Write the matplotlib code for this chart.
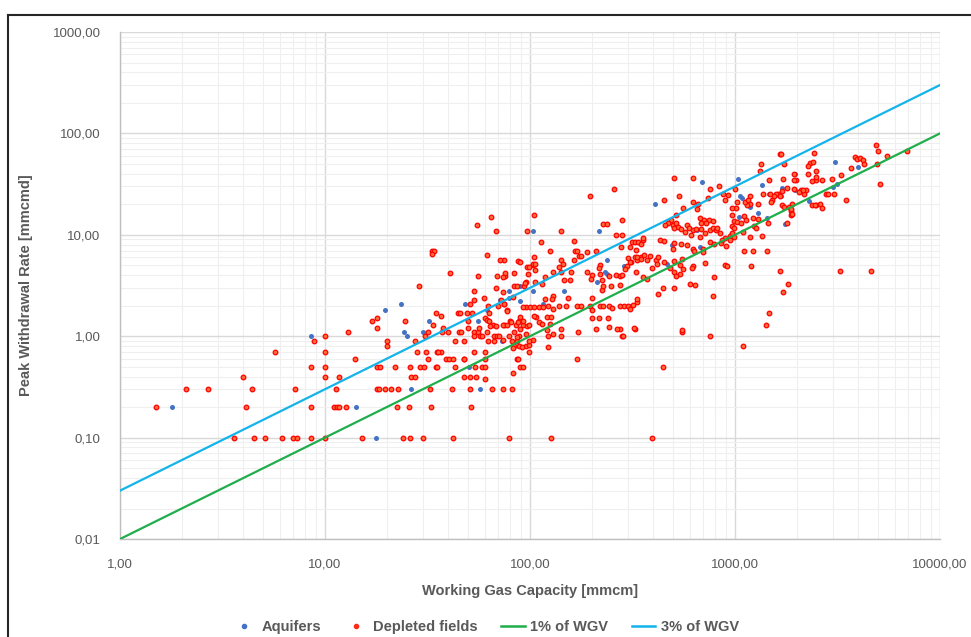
import numpy as np
import matplotlib.pyplot as plt
from matplotlib.lines import Line2D
from matplotlib.ticker import FixedLocator, LogLocator, NullFormatter

plt.rcParams['font.family'] = ['Liberation Sans', 'DejaVu Sans']

# Aquifer storages: (working gas capacity [mmcm], peak withdrawal rate [mmcmd])
aquifers = [
    (1.8, 0.2), (8.5, 1.0), (14.1, 0.2), (17.7, 0.1), (19.6, 1.8), (23.5, 2.1),
    (24.4, 1.1), (25, 1.0), (26.4, 0.3), (30, 1.1), (32, 1.4), (48.3, 2.1),
    (50.5, 0.5), (56, 1.4), (57, 0.3), (61.7, 1.8), (71.5, 2.3), (73.3, 0.9),
    (79, 2.8), (79, 2.4), (89.5, 3.1), (89.5, 2.2), (103, 10.8), (103, 2.8),
    (116, 2.07), (146, 2.8), (175, 2.0), (213, 3.4), (218, 10.8), (232, 4.3),
    (238, 4.1), (238, 5.7), (286, 4.9), (305, 2.0), (405, 19.9), (465, 5.1),
    (492, 7.9), (650, 11.1), (674, 7.6), (690, 32.8), (1030, 35.8), (1060, 24),
    (1080, 22.8), (1180, 18.9), (1050, 15), (1290, 16.5), (1440, 14.5),
    (1350, 31.3), (1470, 25.1), (1680, 24), (1700, 29.2), (1750, 12.9),
    (1960, 27.5), (1970, 40.2), (2300, 21.4), (2990, 29.7), (3160, 32),
    (3080, 52.6), (3990, 47),
]

# Depleted gas/oil fields
depleted_small = [
    (1.5, 0.2), (2.1, 0.3), (2.7, 0.3), (3.6, 0.1), (4.0, 0.4), (4.1, 0.2),
    (4.4, 0.3), (4.5, 0.1), (5.1, 0.1), (5.7, 0.7), (6.2, 0.1), (7.0, 0.1),
    (7.3, 0.1), (7.1, 0.3), (8.5, 0.5), (8.8, 0.9), (8.5, 0.2), (8.5, 0.1),
    (10, 1.0), (10, 0.7), (10, 0.5), (10, 0.4), (10, 0.1), (11.3, 0.3),
    (11.7, 0.4), (11.0, 0.2), (11.4, 0.2), (11.7, 0.2), (12.7, 0.2), (12.9, 1.1),
    (14.0, 0.6), (15.1, 0.1), (16.9, 1.4), (17.9, 1.5), (18.0, 1.2), (20, 0.9),
    (20, 0.8), (17.9, 0.5), (18.5, 0.5), (21.9, 0.5), (18, 0.3), (18.3, 0.3),
    (19.7, 0.3), (21.1, 0.3), (22.6, 0.3), (22.4, 0.2), (24.5, 1.4), (27.5, 0.9),
    (26, 0.5), (29, 0.5), (30.5, 0.5), (28.8, 3.1), (28, 0.7), (31, 0.7),
    (30.6, 1.0), (31.7, 1.1), (33.7, 1.3), (33.1, 7.0), (34, 7.0), (33.1, 6.5),
    (34.8, 1.7), (36.7, 1.6), (35.3, 0.7), (36.7, 0.7), (34.8, 0.5), (35, 0.5),
    (31.9, 0.6), (37.7, 1.2), (37, 1.1), (40, 1.1), (43, 0.9), (44.8, 1.1),
    (46, 1.1), (47.7, 0.9), (39, 0.6), (40.4, 0.6), (42, 0.6), (40.7, 4.2),
    (44.6, 1.7), (45.5, 1.7), (47.5, 0.6), (49.5, 1.7), (50.8, 2.1), (51.9, 1.7),
    (49.7, 1.4), (49.7, 1.2), (24, 0.1), (26, 0.1), (26.2, 0.4), (27.5, 0.4),
    (25.7, 0.2), (30, 0.1), (32.5, 0.3), (33, 0.2), (41.8, 0.3), (42, 0.1),
    (35.6, 0.7), (43, 0.5), (47.7, 0.6), (47.7, 0.4), (51, 0.4),
]

depleted_mid = [
    (53.3, 2.8), (53.4, 2.3), (59.8, 2.4), (56, 3.9), (55.4, 12.6), (64.5, 15),
    (68, 11), (61.7, 6.3), (68.7, 3.9), (75.5, 3.9), (75.5, 4.2), (74.8, 5.6),
    (83.2, 4.2), (87.7, 5.5), (68, 3.0), (74.2, 2.7), (84, 3.1), (62.5, 2.0),
    (63, 1.7), (60.5, 1.5), (72, 2.3), (70, 2.0), (74.8, 2.1), (77, 1.8),
    (61.6, 1.45), (63, 1.4), (66, 1.3), (64, 1.25), (68, 1.25), (75, 1.3),
    (80, 1.4), (85, 1.3), (53.4, 1.1), (53.5, 1.0), (55.7, 1.1), (56.3, 1.2),
    (56.9, 1.0), (58.6, 1.0), (61.5, 1.1), (62.3, 0.9), (66.5, 1.0), (68.8, 1.0),
    (70.5, 1.0), (66.8, 0.9), (79, 1.0), (82, 0.9), (86.7, 0.9), (53.4, 0.7),
    (60, 0.7), (60, 0.6), (58.6, 0.5), (54, 0.5), (54.7, 0.4), (60, 0.38),
    (60, 0.5), (51, 0.3), (65, 0.3), (74, 0.3), (82, 0.3), (51.5, 0.2), (79, 0.1),
    (126, 0.1), (394, 0.1), (96.4, 11), (95.3, 3.4), (96.4, 4.8), (88.8, 1.4),
    (92.5, 1.3), (96.4, 1.25), (86.5, 0.6), (89.5, 0.5), (92, 0.5), (83, 0.43),
    (88, 1.0), (84, 0.8), (88, 0.8), (96, 0.8), (71, 5.6), (74, 3.85), (89, 5.4),
    (103, 5.0), (86, 3.1), (93, 3.1), (83, 2.45), (75, 2.1), (77, 1.78),
    (74, 1.28), (77, 1.28), (81, 1.38), (87, 1.38), (89, 1.19), (84, 1.1),
    (86, 0.98), (96, 1.06), (103, 0.91), (99, 0.81), (91, 0.78), (83, 0.76),
    (74, 0.91),
]

depleted_large = [
    (258, 28), (196, 24.4), (105, 15.6), (142, 11), (228, 12.7), (238, 12.7),
    (280, 13.9), (262, 10), (280, 10), (113, 8.4), (125, 7.0), (163, 8.6),
    (166, 7.0), (169, 7.0), (174, 6.2), (189, 6.7), (211, 7.0), (277, 7.5),
    (307, 7.5), (316, 8.5), (325, 8.5), (337, 8.5), (347, 8.1), (356, 8.8),
    (104, 6.0), (103, 5.2), (106, 5.1), (106, 4.5), (99, 4.8), (141, 5.7),
    (145, 5.2), (163, 5.7), (178, 6.2), (220, 5.0), (218, 4.7), (302, 5.9),
    (312, 5.4), (325, 6.0), (331, 5.6), (347, 6.0), (358, 6.3), (370, 5.6),
    (98, 4.15), (95, 3.35), (106, 3.4), (114, 3.3), (118, 3.8), (129, 4.3),
    (139, 4.8), (142, 4.3), (158, 4.3), (146, 3.6), (157, 3.6), (189, 4.3),
    (201, 4.0), (198, 3.7), (220, 4.15), (224, 3.6), (244, 3.9), (263, 4.0),
    (274, 3.9), (280, 4.0), (298, 4.9), (290, 4.6), (307, 5.4), (96, 1.95),
    (100, 1.95), (104, 1.95), (92, 1.95), (111, 1.95), (116, 1.95), (123, 2.0),
    (129, 1.85), (139, 2.0), (150, 2.0), (153, 2.4), (129, 2.5), (118, 2.35),
    (128, 2.35), (121, 1.55), (107, 1.55), (111, 1.37), (126, 1.55), (169, 2.0),
    (178, 2.0), (196, 2.0), (201, 1.8), (220, 2.0), (226, 2.0), (244, 2.0),
    (250, 1.9), (274, 2.0), (286, 2.0), (302, 2.0), (307, 1.85), (319, 2.05),
    (331, 2.15), (92.5, 1.4), (89, 1.55), (99, 1.3), (104, 1.6), (114, 1.33),
    (125, 1.33), (142, 1.19), (129, 1.06), (121, 1.16), (172, 1.1), (211, 1.19),
    (244, 1.23), (274, 1.19), (325, 1.19), (99, 0.9), (123, 1.0), (141, 1.0),
    (122, 0.78), (280, 1.0), (201, 2.4), (224, 2.85), (228, 3.1), (248, 3.1),
    (274, 3.2), (553, 1.1), (756, 1.0), (283, 1.0), (322, 1.2), (200, 1.5),
    (217, 1.5), (266, 1.19), (241, 1.5), (169, 0.6), (87, 0.6), (99, 0.7),
    (1090, 0.8), (445, 0.5),
    (502, 36.7), (626, 36.7), (757, 28), (834, 30), (534, 24), (451, 22),
    (622, 21.1), (663, 20), (742, 22.8), (870, 25.1), (890, 22), (556, 18.2),
    (653, 17.8), (518, 15.6), (485, 13.9), (470, 13.1), (500, 12.6), (455, 12.6),
    (674, 14.5), (706, 14.1), (750, 14.1), (783, 13.7), (680, 13.1), (720, 13.1),
    (515, 13.1), (528, 11.9), (506, 11.7), (543, 11.3), (581, 12.6), (598, 11.8),
    (569, 10.7), (626, 11.1), (645, 11.5), (607, 10.0), (680, 11.4), (674, 9.5),
    (710, 10.3), (756, 11.2), (779, 11.8), (808, 11.1), (820, 11.8), (849, 10.3),
    (430, 8.8), (452, 8.6), (502, 8.3), (546, 8.2), (500, 7.2), (581, 7.9),
    (626, 7.2), (632, 6.9), (694, 7.2), (700, 6.7), (756, 8.4), (790, 8.2),
    (855, 8.3), (894, 9.4), (941, 9.8), (966, 10.3), (867, 8.8), (356, 9.2),
    (327, 7.1), (333, 6.0), (346, 5.8), (383, 6.2), (411, 5.7), (423, 6.0),
    (450, 5.4), (502, 5.5), (549, 5.8), (416, 5.1), (393, 4.7), (480, 4.7),
    (540, 5.0), (556, 4.6), (502, 4.3), (540, 4.15), (516, 3.9), (626, 4.9),
    (617, 4.7), (716, 5.3), (894, 5.0), (790, 3.85), (600, 3.3), (639, 3.2),
    (443, 3.0), (502, 3.0), (421, 2.6), (782, 2.5), (327, 4.3), (356, 3.85),
    (372, 3.7), (334, 2.35), (554, 1.15),
]

depleted_xl = [
    (4870, 76.5), (5000, 67), (5530, 59.6), (6920, 67), (4910, 49.7), (5100, 32),
    (3830, 57.9), (3950, 56.2), (4070, 57), (4200, 55), (4260, 49.7), (3670, 46),
    (3300, 39.2), (2960, 35.4), (2660, 34.5), (2480, 34.5), (2370, 34),
    (2480, 43), (2440, 64.5), (2310, 51.4), (2400, 52.6), (2270, 47.5),
    (2260, 39.6), (2770, 25.5), (2840, 25.5), (3050, 25.5), (3460, 21.9),
    (2600, 20), (2660, 18.2), (2490, 19.6), (2370, 19.6), (2450, 19.6),
    (2480, 37.5), (2210, 27.5), (2100, 27.5), (2060, 26.5), (2160, 25.5),
    (1940, 28), (1980, 35), (1950, 39.5), (1890, 20), (1870, 17.2), (1880, 15.6),
    (1660, 62), (1680, 63), (1740, 49.7), (1340, 49.7), (1330, 43), (1470, 34.5),
    (1710, 35.2), (1800, 29), (1700, 27.3), (1620, 25.1), (1580, 25.1),
    (1520, 21.9), (1500, 21.1), (1660, 24), (1940, 34.5), (2150, 27.5),
    (1700, 19.6), (1740, 18.9), (1830, 18.9), (1880, 17.8), (1890, 16),
    (1790, 13), (1370, 25.1), (1480, 25), (1550, 24), (1290, 20), (1180, 24),
    (1180, 20), (1140, 19.6), (1120, 21.1), (1160, 22.2), (1020, 21.1),
    (1010, 18.2), (965, 18.2), (929, 24.5), (1000, 28.6), (965, 15.6),
    (990, 13.7), (1020, 13.4), (965, 12.1), (990, 11.7), (1110, 15.2),
    (1130, 14.1), (1230, 14.6), (1290, 14.4), (1070, 13.1), (1240, 12.1),
    (1270, 11.7), (1450, 13.1), (1350, 9.7), (1180, 9.5), (1090, 10.6),
    (990, 9.6), (940, 8.9), (900, 7.8), (1100, 6.9), (1230, 7.0), (1440, 6.9),
    (910, 4.9), (1200, 4.9), (1660, 4.4), (1820, 3.3), (1720, 2.7), (1470, 1.7),
    (1410, 1.3), (3240, 4.4), (4620, 4.4),
]

wgv_range = [1, 10000]
share_low = 0.01   # 1% of WGV per day
share_high = 0.03  # 3% of WGV per day

x_ticks = [1, 10, 100, 1000, 10000]
x_labels = ['1,00', '10,00', '100,00', '1000,00', '10000,00']
y_ticks = [0.01, 0.1, 1, 10, 100, 1000]
y_labels = ['0,01', '0,10', '1,00', '10,00', '100,00', '1000,00']

aq = np.array(aquifers)
dep = np.array(depleted_small + depleted_mid + depleted_large + depleted_xl)
wgv = np.array(wgv_range, dtype=float)

fig = plt.figure(figsize=(9.71, 6.37), dpi=100)
ax = fig.add_axes([0.1236, 0.1538, 0.8445, 0.796])

ax.set_xscale('log')
ax.set_yscale('log')
ax.set_xlim(1, 10000)
ax.set_ylim(0.01, 1000)

ax.scatter(aq[:, 0], aq[:, 1], s=13, color='#4472c4', linewidths=0, zorder=3)
ax.scatter(dep[:, 0], dep[:, 1], s=11, facecolor='#ff6a3a', edgecolor='#ff0000',
           linewidths=0.9, zorder=3)
ax.plot(wgv, wgv * share_low, color='#1fae4b', lw=1.6, zorder=4)
ax.plot(wgv, wgv * share_high, color='#13b4ea', lw=1.6, zorder=4)

# gridlines
ax.xaxis.set_major_locator(FixedLocator(x_ticks))
ax.yaxis.set_major_locator(FixedLocator(y_ticks))
ax.xaxis.set_minor_locator(LogLocator(base=10, subs=np.arange(2, 10)))
ax.yaxis.set_minor_locator(LogLocator(base=10, subs=np.arange(2, 10)))
ax.xaxis.set_minor_formatter(NullFormatter())
ax.yaxis.set_minor_formatter(NullFormatter())
ax.set_xticklabels(x_labels)
ax.set_yticklabels(y_labels)
ax.grid(which='major', color='#d9d9d9', lw=1.0)
ax.grid(which='minor', color='#efefef', lw=0.8)
ax.set_axisbelow(True)
ax.tick_params(which='both', length=0)
ax.tick_params(axis='x', pad=14, labelsize=9.5, labelcolor='#595959')
ax.tick_params(axis='y', pad=14, labelsize=9.5, labelcolor='#595959')

for side in ['top', 'right']:
    ax.spines[side].set_visible(False)
for side in ['left', 'bottom']:
    ax.spines[side].set_color('#bfbfbf')
    ax.spines[side].set_linewidth(1.0)

ax.set_xlabel('Working Gas Capacity [mmcm]', fontsize=10.5, fontweight='bold',
              color='#595959', labelpad=10)
ax.set_ylabel('Peak Withdrawal Rate [mmcmd]', fontsize=10.5, fontweight='bold',
              color='#595959', labelpad=14)

handles = [
    Line2D([], [], ls='none', marker='o', ms=3, color='#4472c4'),
    Line2D([], [], ls='none', marker='o', ms=3, color='#ff2a1a'),
    Line2D([], [], color='#1fae4b', lw=1.8),
    Line2D([], [], color='#13b4ea', lw=1.8),
]
fig.legend(handles, ['Aquifers', 'Depleted fields', '1% of WGV', '3% of WGV'],
           loc='center', bbox_to_anchor=(0.5, 0.016), ncol=4, frameon=False,
           handlelength=1.6, handletextpad=0.4, columnspacing=1.6,
           prop={'size': 10.5, 'weight': 'bold'}, labelcolor='#595959')

# chart border
fig.add_artist(Line2D([8 / 971, 8 / 971], [0, 1 - 15 / 637], color='#262626',
                      lw=1.5, transform=fig.transFigure))
fig.add_artist(Line2D([8 / 971, 1], [1 - 15 / 637, 1 - 15 / 637], color='#262626',
                      lw=1.5, transform=fig.transFigure))

plt.savefig('out.png', dpi=100)
